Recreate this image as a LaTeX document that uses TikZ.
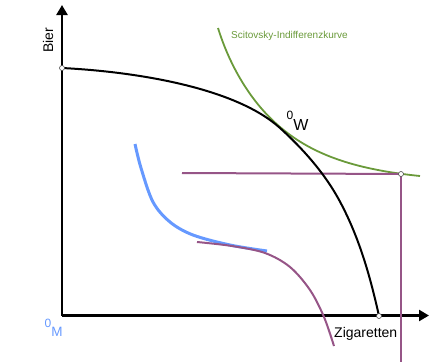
\documentclass[tikz,border=0pt]{standalone}
\usepackage{fontspec}
\setmainfont{Liberation Sans}
\usetikzlibrary{arrows.meta}
\definecolor{scigreen}{RGB}{106,154,58}
\definecolor{plum}{RGB}{150,85,135}
\definecolor{skyblue}{RGB}{102,153,255}
\tikzset{
  axisline/.style={line width=2.6pt,-{Triangle[length=10pt,width=11pt]}},
  ppfline/.style={line width=2pt,black},
  indiff/.style={line width=1.8pt,scigreen},
  plumline/.style={line width=2pt,plum},
  blueline/.style={line width=3pt,skyblue},
  dotpt/.style={circle,draw=black!70,fill=white,line width=0.6pt,inner sep=0pt,minimum size=5pt},
  lbl/.style={inner sep=0pt,font=\fontsize{14}{16}\selectfont}
}
\begin{document}
\begin{tikzpicture}[x=1pt,y=-1pt]
\useasboundingbox (0,0) rectangle (440,362);
% axes
\coordinate (O) at (62,315.5);
\coordinate (Ytip) at (62,5);
\coordinate (Xtip) at (429,315.5);
\draw[axisline] (O) -- (Ytip);
\draw[axisline] (O) -- (Xtip);
% labels
\node[lbl,rotate=90,anchor=base west] (bier) at (53,53) {Bier};
\node[lbl,anchor=base west] (zig) at (334,337) {Zigaretten};
\node[inner sep=0pt,anchor=base west,scigreen,font=\fontsize{10}{12}\selectfont] (sci) at (231,38.3) {Scitovsky-Indifferenzkurve};
\node[inner sep=0pt,anchor=base west] (ow) at (286.5,130) {\raisebox{11pt}{\fontsize{12}{12}\selectfont 0}\fontsize{16}{16}\selectfont W};
\node[inner sep=0pt,anchor=base west,skyblue] (om) at (44.5,336) {\raisebox{9pt}{\fontsize{12}{12}\selectfont 0}\fontsize{13.5}{14}\selectfont M};
% blue curve and plum lower curve
\draw[blueline] plot[smooth,tension=0.55] coordinates {(135,144) (141,168) (153,202) (170,222) (193,235) (230,245) (267,251)};
\draw[plumline] plot[smooth,tension=0.55] coordinates {(197,242) (232,246) (265,253) (290,267) (310,290) (324,317) (334,346)};
% green indifference curve
\coordinate (G0) at (218,28);
\coordinate (GT) at (280,127);
\coordinate (G1) at (420,176);
\draw[indiff] (G0) .. controls (229.6,65.2) and (250.3,101.8) .. (GT)
  .. controls (310,152.5) and (350,169) .. (G1);
% plum box lines
\coordinate (Ec) at (401,174);
\coordinate (Hs) at (182,173);
\coordinate (Vb) at (401,362);
\draw[plumline] (Hs) -- (Ec);
\draw[plumline] (Ec) -- (Vb);
% production possibility frontier
\coordinate (Ac) at (62,68);
\coordinate (Bc) at (379,316);
\coordinate (PT) at (280,128);
\coordinate (PM) at (338,198);
\draw[ppfline] (Ac) .. controls (137,71.8) and (235.6,87.8) .. (PT)
  .. controls (302.2,148.1) and (323.4,171.8) .. (PM)
  .. controls (358.4,234.7) and (369.9,275) .. (Bc);
% marker points
\node[dotpt] (A) at (Ac) {};
\node[dotpt] (B) at (Bc) {};
\node[dotpt] (E) at (Ec) {};
\end{tikzpicture}
\end{document}
